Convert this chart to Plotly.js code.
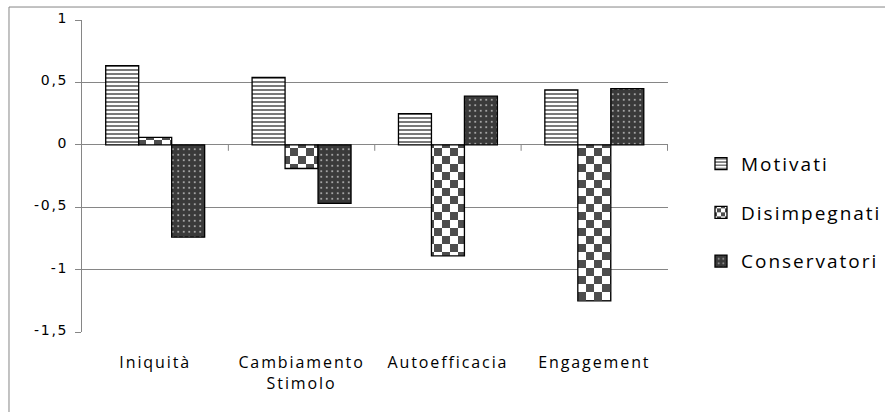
<!DOCTYPE html>
<html>
<head>
<meta charset="utf-8">
<script src="https://cdn.plot.ly/plotly-3.0.1.min.js"></script>
<style>
  html, body { margin: 0; padding: 0; background: #fff; }
  #plot { width: 885px; height: 412px; }
  #plot .xtick text { letter-spacing: 1.9px; }
  #plot .ytick text { letter-spacing: 1.7px; }
  #plot .legendtext { letter-spacing: 2px; }
</style>
</head>
<body>
<div id="plot"></div>
<script>
let categories = ["Iniquità", "Cambiamento<br>Stimolo", "Autoefficacia", "Engagement"];
let motivati = [0.635, 0.54, 0.25, 0.44];
let disimpegnati = [0.06, -0.19, -0.89, -1.25];
let conservatori = [-0.74, -0.47, 0.39, 0.45];
let y_tickvals = [1, 0.5, 0, -0.5, -1, -1.5];
let y_ticktext = ["1", "0,5", "0", "-0,5", "-1", "-1,5"];

let label_font = "Open Sans, Liberation Sans, sans-serif";
let number_font = "DejaVu Sans, Verdana, sans-serif";

function make_trace(name, values, pattern) {
  return {
    type: "bar",
    name: name,
    x: categories,
    y: values,
    legendgroup: name,
    marker: {
      color: "#ffffff",
      line: { color: "#000000", width: 1.3 },
      pattern: pattern,
    },
    hoverinfo: "skip",
  };
}

let data = [
  make_trace("Motivati", motivati, {
    shape: "-", size: 4, solidity: 0.5, fgcolor: "#7a7a7a", bgcolor: "#ffffff",
    fgopacity: 1, fillmode: "overlay",
  }),
  make_trace("Disimpegnati", disimpegnati, {
    shape: "+", size: 16, solidity: 0.5, fgcolor: "#4d4d4d", bgcolor: "#ffffff",
    fgopacity: 1, fillmode: "overlay",
  }),
  make_trace("Conservatori", conservatori, {
    shape: ".", size: 5.5, solidity: 0.1, fgcolor: "#bdbdbd", bgcolor: "#3a3a3a",
    fgopacity: 1, fillmode: "overlay",
  }),
];

// small tick marks on the category axis (at y = 0) between categories
let boundary_ticks = categories.map((c, i) => ({
  type: "line",
  xref: "x",
  yref: "y",
  x0: i + 0.5,
  x1: i + 0.5,
  ysizemode: "pixel",
  yanchor: 0,
  y0: 0,
  y1: -6,
  line: { color: "#868686", width: 1 },
  layer: "below",
}));

let layout = {
  width: 885,
  height: 412,
  margin: { l: 82, r: 217, t: 20, b: 79.5 },
  paper_bgcolor: "#ffffff",
  plot_bgcolor: "#ffffff",
  font: { family: label_font, size: 15, color: "#000000" },
  barmode: "group",
  bargap: 0.324,
  bargroupgap: 0,
  showlegend: true,
  legend: {
    x: 1.0563,
    xanchor: "left",
    y: 0.6,
    yanchor: "top",
    font: { family: label_font, size: 19, color: "#000000" },
    tracegroupgap: 21,
    bgcolor: "rgba(0,0,0,0)",
    itemclick: false,
  },
  xaxis: {
    type: "category",
    showgrid: false,
    showline: false,
    ticks: "",
    tickfont: { family: label_font, size: 16, color: "#000000" },
    ticklabelstandoff: 19,
    zeroline: false,
  },
  yaxis: {
    range: [-1.5, 1],
    tickvals: y_tickvals,
    ticktext: y_ticktext,
    showgrid: true,
    gridcolor: "#868686",
    gridwidth: 1,
    zeroline: true,
    zerolinecolor: "#868686",
    zerolinewidth: 1,
    showline: true,
    linecolor: "#868686",
    linewidth: 1,
    ticks: "outside",
    ticklen: 6,
    tickcolor: "#868686",
    tickfont: { family: number_font, size: 14, color: "#000000" },
    ticklabelstandoff: 4,
    ticklabelshift: -2,
  },
  shapes: [
    {
      type: "rect",
      xref: "paper",
      yref: "paper",
      x0: -0.1246,
      x1: 1.6,
      y0: -0.4,
      y1: 1.0416,
      line: { color: "#868686", width: 1 },
      fillcolor: "rgba(0,0,0,0)",
      layer: "below",
    },
  ].concat(boundary_ticks),
};

// turn the "+" pattern (two crossing strokes) into a checkerboard,
// and let the legend text run past its measured box (letter-spacing)
function fix_drawing(gd) {
  gd.querySelectorAll("pattern path").forEach(function (p) {
    if (p.getAttribute("data-checker")) return;
    let d = p.getAttribute("d") || "";
    let moves = (d.match(/M/g) || []).length;
    if (moves < 2) return;
    let pat = p.parentNode;
    let w = parseFloat(pat.getAttribute("width"));
    let c = w / 2;
    let color = p.getAttribute("stroke") || p.style.stroke || "#4d4d4d";
    p.setAttribute(
      "d",
      "M0,0h" + c + "v" + c + "h-" + c + "z" + "M" + c + "," + c + "h" + c + "v" + c + "h-" + c + "z"
    );
    p.setAttribute("fill", color);
    p.setAttribute("stroke", "none");
    p.setAttribute("stroke-width", "0");
    p.style.stroke = "none";
    p.style.fill = color;
    p.setAttribute("data-checker", "1");
  });
  gd.querySelectorAll(".legend [clip-path]").forEach(function (el) {
    el.removeAttribute("clip-path");
  });
}

Plotly.newPlot("plot", data, layout, { displayModeBar: false, staticPlot: true }).then(function (gd) {
  fix_drawing(gd);
  gd.on("plotly_afterplot", function () {
    fix_drawing(gd);
  });
  setTimeout(function () {
    fix_drawing(gd);
  }, 50);
});
</script>
</body>
</html>
